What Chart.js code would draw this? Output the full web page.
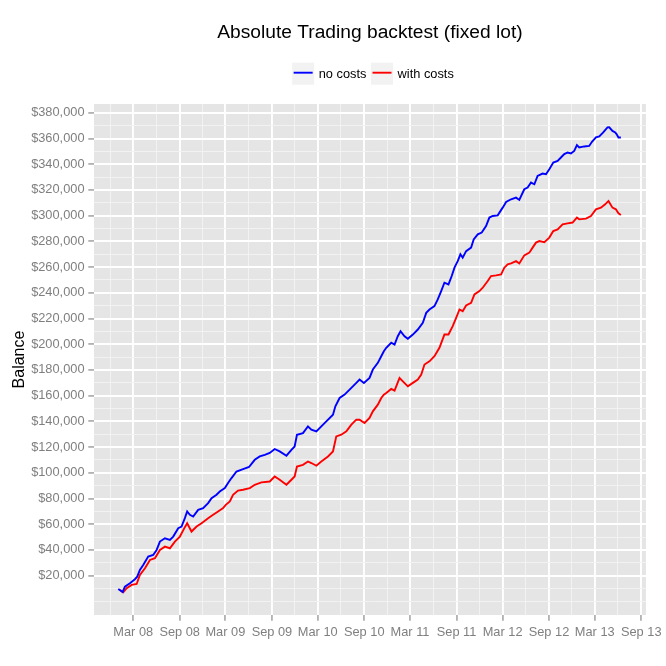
<!DOCTYPE html>
<html><head><meta charset="utf-8">
<script src="https://cdn.jsdelivr.net/npm/chart.js@4.4.1/dist/chart.umd.min.js"></script>
<style>html,body{margin:0;padding:0;background:#fff}#wrap{width:666px;height:666px;position:relative}</style>
</head><body><div id="wrap"><canvas id="c" width="666" height="666"></canvas></div>
<script>
// ---------------- data ----------------
const chartTitle = 'Absolute Trading backtest (fixed lot)';
const yAxisTitle = 'Balance';
const seriesNames = ['no costs', 'with costs'];
const seriesColors = ['#0000FF', '#FF0000'];

// time as decimal years
const noCostsT = [2008.002,2008.049,2008.074,2008.128,2008.182,2008.207,2008.236,2008.272,2008.326,2008.380,2008.417,2008.453,2008.507,2008.561,2008.597,2008.651,2008.687,2008.723,2008.748,2008.777,2008.813,2008.867,2008.921,2008.975,2009.012,2009.066,2009.101,2009.156,2009.191,2009.228,2009.282,2009.353,2009.418,2009.480,2009.534,2009.588,2009.642,2009.696,2009.750,2009.823,2009.877,2009.912,2009.937,2010.002,2010.056,2010.093,2010.147,2010.201,2010.255,2010.327,2010.353,2010.399,2010.453,2010.526,2010.580,2010.615,2010.662,2010.723,2010.759,2010.813,2010.850,2010.878,2010.904,2010.958,2010.994,2011.029,2011.059,2011.102,2011.138,2011.192,2011.246,2011.300,2011.337,2011.372,2011.426,2011.462,2011.499,2011.534,2011.578,2011.613,2011.643,2011.678,2011.707,2011.732,2011.769,2011.823,2011.851,2011.895,2011.938,2011.985,2012.021,2012.057,2012.111,2012.165,2012.202,2012.256,2012.310,2012.345,2012.399,2012.435,2012.472,2012.508,2012.543,2012.597,2012.634,2012.670,2012.713,2012.760,2012.796,2012.832,2012.868,2012.904,2012.940,2012.969,2012.994,2013.048,2013.102,2013.132,2013.175,2013.211,2013.254,2013.300,2013.319,2013.354,2013.384,2013.398,2013.419,2013.445];
const noCostsBalance = [9600,7300,11400,14100,17200,19200,24400,28300,34800,36100,40000,46500,49100,47800,50400,56900,58200,64700,69900,67300,66000,71200,72500,76400,80300,82900,85400,88100,92000,95900,101000,102900,104500,110100,112700,114000,115400,118500,116600,113300,117900,120500,129600,130900,136100,133500,132200,136100,140000,145200,151700,158200,160800,166000,169900,172500,169900,173800,180300,185500,190600,194500,197200,201100,199700,206200,210100,206200,204200,207500,211400,216600,224400,227000,229600,234800,241300,247800,246500,253000,259500,264600,269900,267300,272400,275100,281500,285400,286800,291900,298500,299700,300200,306200,310600,312700,314000,312200,320500,321800,325700,324400,330900,332700,332200,336100,341300,342500,345200,347800,349100,348300,350300,354800,353000,353800,354200,357400,360800,361600,364700,368600,368700,365900,364700,363400,360800,360800];

const withCostsT = [2008.020,2008.056,2008.093,2008.147,2008.201,2008.236,2008.291,2008.345,2008.399,2008.453,2008.507,2008.561,2008.615,2008.669,2008.723,2008.748,2008.795,2008.850,2008.904,2008.975,2009.029,2009.083,2009.137,2009.166,2009.210,2009.245,2009.299,2009.353,2009.426,2009.480,2009.552,2009.642,2009.696,2009.750,2009.823,2009.877,2009.912,2009.937,2010.002,2010.056,2010.093,2010.147,2010.201,2010.273,2010.327,2010.363,2010.417,2010.472,2010.526,2010.580,2010.615,2010.669,2010.723,2010.759,2010.813,2010.850,2010.878,2010.904,2010.958,2010.994,2011.048,2011.084,2011.138,2011.192,2011.246,2011.283,2011.318,2011.372,2011.426,2011.480,2011.534,2011.578,2011.624,2011.661,2011.697,2011.732,2011.769,2011.823,2011.859,2011.913,2011.949,2012.003,2012.039,2012.094,2012.148,2012.183,2012.219,2012.256,2012.310,2012.345,2012.399,2012.454,2012.489,2012.526,2012.562,2012.616,2012.670,2012.713,2012.760,2012.814,2012.868,2012.922,2012.969,2012.994,2013.067,2013.121,2013.175,2013.229,2013.275,2013.311,2013.354,2013.391,2013.419,2013.445];
const withCostsBalance = [8900,7100,10200,12800,13500,20500,25800,32200,33600,40000,42600,41300,46500,50400,57700,60800,54300,58200,60800,64700,67300,69900,72500,75100,77700,82900,86200,86800,88100,90700,92500,93200,97100,94600,90700,94600,97100,104900,106200,108800,107600,105500,108800,112700,116600,128300,129600,132200,137400,141300,141300,138700,142600,147800,153000,158200,160800,162100,165200,163900,173800,171100,167200,169900,172500,176400,184200,186700,190600,197200,207500,207500,214000,220500,227000,225700,230100,232200,238700,241300,243900,249100,253000,253500,254300,259500,262100,262800,264600,262800,269100,271200,275100,279000,280200,279400,282900,288000,289300,293200,294000,294600,298500,297100,297700,299700,304900,306200,308800,311400,306200,304900,301800,300500];

const xTickLabels = ['Mar 08','Sep 08','Mar 09','Sep 09','Mar 10','Sep 10','Mar 11','Sep 11','Mar 12','Sep 12','Mar 13','Sep 13'];
const yTickValues = [20000,40000,60000,80000,100000,120000,140000,160000,180000,200000,220000,240000,260000,280000,300000,320000,340000,360000,380000];

// ---------------- helpers ----------------
const FONT = '"Liberation Sans", Arial, Helvetica, sans-serif';
const MONTHS = ['Jan','Feb','Mar','Apr','May','Jun','Jul','Aug','Sep','Oct','Nov','Dec'];
function labelToYear(lbl){
  const parts = lbl.split(' ');
  const yr = 2000 + parseInt(parts[1], 10);
  const mi = MONTHS.indexOf(parts[0]);
  const s = Date.UTC(yr,0,1), e = Date.UTC(yr+1,0,1);
  return yr + (Date.UTC(yr,mi,1) - s) / (e - s);
}
const xMajor = xTickLabels.map(labelToYear);
const X_MIN = 2007.739, X_MAX = 2013.7166;
const Y_MIN = -10600, Y_MAX = 386800;

function minorBreaks(major, lo, hi){
  const n = major.length;
  const ext = [major[0] - (major[1]-major[0]), ...major, major[n-1] + (major[n-1]-major[n-2])];
  const out = [];
  for (let i = 0; i < ext.length - 1; i++){
    [ext[i], (ext[i]+ext[i+1])/2].forEach(v => { if (v >= lo && v <= hi && !major.some(m => Math.abs(m-v) < 1e-9)) out.push(v); });
  }
  const last = ext[ext.length-1];
  if (last >= lo && last <= hi) out.push(last);
  return out;
}
const xMinor = minorBreaks(xMajor, X_MIN, X_MAX);
const yMinor = minorBreaks(yTickValues, Y_MIN, Y_MAX);

function isMinorX(v){ return xMinor.some(m => Math.abs(m - v) < 1e-9); }
function isMinorY(v){ return yMinor.some(m => Math.abs(m - v) < 1e-6); }

function toPoints(ts, vs){ const n = Math.min(ts.length, vs.length); const a = []; for (let i=0;i<n;i++) a.push({x: ts[i], y: vs[i]}); return a; }

const panelBg = {
  id: 'panelBg',
  beforeDraw(chart){
    const {ctx, chartArea: a} = chart;
    ctx.save();
    ctx.fillStyle = '#E5E5E5';
    ctx.fillRect(a.left, a.top, a.right - a.left, a.bottom - a.top);
    ctx.restore();
  }
};

const ggLegend = {
  id: 'ggLegend',
  afterDraw(chart){
    const ctx = chart.ctx;
    const items = chart.data.datasets.map(d => ({label: d.label, color: d.borderColor}));
    ctx.save();
    ctx.font = '12.8px ' + FONT;
    const key = 22, gap = 4.6, between = 4.6;
    let total = 0;
    items.forEach((it, i) => { total += key + gap + ctx.measureText(it.label).width + (i < items.length-1 ? between : 0); });
    const a = chart.chartArea;
    const cx = (a.left + a.right) / 2 + 3;
    let x = cx - total / 2;
    const cy = 73.7;
    items.forEach(it => {
      ctx.fillStyle = '#F2F2F2';
      ctx.fillRect(x, cy - key/2, key, key);
      ctx.strokeStyle = it.color;
      ctx.lineWidth = 1.9;
      ctx.beginPath();
      ctx.moveTo(x + 1.5, cy - 1);
      ctx.lineTo(x + key - 1.5, cy - 1);
      ctx.stroke();
      x += key + gap;
      ctx.fillStyle = '#000000';
      ctx.textBaseline = 'middle';
      ctx.textAlign = 'left';
      ctx.fillText(it.label, x, cy + 0.5);
      x += ctx.measureText(it.label).width + between;
    });
    ctx.restore();
  }
};

Chart.defaults.font.family = FONT;

new Chart(document.getElementById('c'), {
  type: 'line',
  data: {
    datasets: [
      { label: seriesNames[0], data: toPoints(noCostsT, noCostsBalance), borderColor: seriesColors[0], backgroundColor: seriesColors[0], borderWidth: 1.9, pointRadius: 0, tension: 0, fill: false },
      { label: seriesNames[1], data: toPoints(withCostsT, withCostsBalance), borderColor: seriesColors[1], backgroundColor: seriesColors[1], borderWidth: 1.9, pointRadius: 0, tension: 0, fill: false }
    ]
  },
  options: {
    responsive: false,
    devicePixelRatio: 1,
    animation: false,
    events: [],
    layout: { padding: { left: 0, right: 19, top: 0, bottom: 0 } },
    plugins: {
      legend: { display: false },
      tooltip: { enabled: false },
      title: {
        display: true, text: chartTitle, fullSize: false, align: 'center',
        color: '#000000', font: { size: 19.2, weight: 'normal', family: FONT, lineHeight: 1.2 },
        padding: { top: 21, bottom: 59.96 }
      }
    },
    scales: {
      x: {
        type: 'linear', position: 'bottom', min: X_MIN, max: X_MAX,
        afterBuildTicks(scale){
          const all = xMajor.concat(xMinor).sort((a,b)=>a-b);
          scale.ticks = all.map(v => ({ value: v }));
        },
        afterFit(scale){ scale.height = 51; },
        border: { display: false },
        grid: {
          drawOnChartArea: true, drawTicks: true, tickLength: 5.7,
          color: ctx => (ctx.tick && isMinorX(ctx.tick.value)) ? '#F2F2F2' : '#FFFFFF',
          lineWidth: ctx => (ctx.tick && isMinorX(ctx.tick.value)) ? 0.95 : 1.9,
          tickColor: ctx => (ctx.tick && isMinorX(ctx.tick.value)) ? 'rgba(0,0,0,0)' : '#7F7F7F',
          tickWidth: 1.1
        },
        ticks: {
          autoSkip: false, maxRotation: 0, minRotation: 0, padding: 4.3,
          color: '#7F7F7F', font: { size: 12.8, family: FONT },
          callback(value){
            if (isMinorX(value)) return '';
            let best = 0, bd = Infinity;
            xMajor.forEach((m,i) => { const d = Math.abs(m - value); if (d < bd) { bd = d; best = i; } });
            return xTickLabels[best];
          }
        }
      },
      y: {
        type: 'linear', position: 'left', min: Y_MIN, max: Y_MAX,
        afterBuildTicks(scale){
          const all = yTickValues.concat(yMinor).sort((a,b)=>a-b);
          scale.ticks = all.map(v => ({ value: v }));
        },
        afterFit(scale){ scale.width = 94; },
        border: { display: false },
        title: {
          display: true, text: yAxisTitle, color: '#000000',
          font: { size: 16, family: FONT, lineHeight: 1.2 },
          padding: { top: 10.4, bottom: 0 }
        },
        grid: {
          drawOnChartArea: true, drawTicks: true, tickLength: 5.7,
          color: ctx => (ctx.tick && isMinorY(ctx.tick.value)) ? '#F2F2F2' : '#FFFFFF',
          lineWidth: ctx => (ctx.tick && isMinorY(ctx.tick.value)) ? 0.95 : 1.9,
          tickColor: ctx => (ctx.tick && isMinorY(ctx.tick.value)) ? 'rgba(0,0,0,0)' : '#7F7F7F',
          tickWidth: 1.1
        },
        ticks: {
          autoSkip: false, padding: 3.8,
          color: '#7F7F7F', font: { size: 12.8, family: FONT },
          callback(value){
            if (isMinorY(value)) return '';
            return '$' + Number(value).toLocaleString('en-US');
          }
        }
      }
    }
  },
  plugins: [panelBg, ggLegend]
});
</script>
</body></html>
